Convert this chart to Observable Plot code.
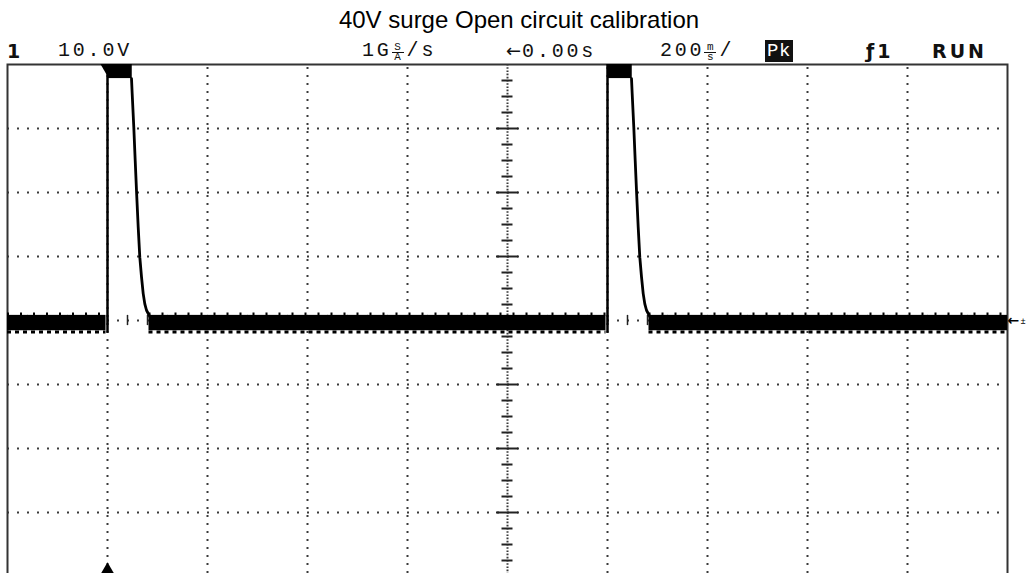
<!DOCTYPE html>
<html><head><meta charset="utf-8">
<script src="https://cdn.jsdelivr.net/npm/d3@7"></script>
<script src="https://cdn.jsdelivr.net/npm/@observablehq/plot@0.6"></script>
<style>
html,body{margin:0;padding:0;background:#fff;}
#wrap{position:relative;width:1026px;height:573px;overflow:hidden;background:#fff;}
#chart{position:absolute;left:0;top:0;}
#title{position:absolute;left:0;width:1038px;top:6px;text-align:center;font-family:"Liberation Sans",Arial,sans-serif;font-size:24px;color:#000;white-space:nowrap;}
.h{position:absolute;top:41px;font-family:"Liberation Mono",monospace;font-size:20px;letter-spacing:2.8px;line-height:20px;color:#111;white-space:nowrap;}
.b{font-family:"DejaVu Sans",sans-serif;font-weight:bold;font-size:19px;letter-spacing:3px;}
.arr{font-family:"DejaVu Sans",sans-serif;font-size:18px;letter-spacing:0;margin-right:1px;}
.stk{display:inline-block;vertical-align:top;margin-top:2px;font-size:11px;line-height:9px;letter-spacing:0;text-align:center;width:12px;margin-right:3px;}
.stk span{display:block;}
.stk .up{border-bottom:1.5px solid #111;}
.pk{background:#111;color:#fff;letter-spacing:0.5px;padding:0 2px;font-size:19px;}
</style></head>
<body><div id="wrap"><div id="chart"></div><div id="title"></div></div>
<script>
// ---- texts ----
const title = "40V surge Open circuit calibration";
const channelLabel = "1";
const voltsPerDiv = "10.0V";
const sampleRate = ["1G", "S", "A", "/s"];
const triggerDelay = ["←", "0.00s"];
const timePerDiv = ["200", "m", "s", "/"];
const acqMode = "Pk";
const triggerSource = "ƒ1";
const runState = "RUN";

// ---- scales (s, V) ----
const timeDomain = [-0.2, 1.8];
const voltDomain = [-40, 40];
const gridTimes = [0, 0.2, 0.4, 0.6, 1.0, 1.2, 1.4, 1.6];
const centerTime = 0.8;
const gridVolts = [-30, -20, -10, 0, 10, 20, 30];
const centerTicksV = d3.range(-15, 16).map(k => k * 2.5);
const centerTicksT = d3.range(-24, 25).map(k => centerTime + k * 0.04);

// ---- waveform ----
const triggerTime = 0;
const pulseStarts = [0, 1.0];
const pulseTopLow = 37.8, pulseTopHigh = 40, pulseTopEnd = 0.048;
const decayT = [0.048, 0.0494, 0.0526, 0.0554, 0.058, 0.0614, 0.0646, 0.068, 0.0714, 0.0746, 0.078, 0.0846];
const decayV = [37.8, 35.4, 30.2, 25.0, 20.3, 14.6, 9.9, 6.8, 4.2, 2.6, 1.6, 0.6];
const baselineSegments = [[-0.2, -0.003], [0.083, 0.997], [1.083, 1.8]];
const noiseLow = -1.6, noiseHigh = 0.8;
const groundLevel = 0;

// title & header
document.getElementById("title").textContent = title;
const wrap = document.getElementById("wrap");
const headerLeft = [7, 58, 362, 506, 660, 765, 866, 932];
const headerHtml = [
  `<span class="b">${channelLabel}</span>`,
  voltsPerDiv,
  `${sampleRate[0]}<span class="stk"><span class="up">${sampleRate[1]}</span><span>${sampleRate[2]}</span></span>${sampleRate[3]}`,
  `<span class="arr">${triggerDelay[0]}</span>${triggerDelay[1]}`,
  `${timePerDiv[0]}<span class="stk"><span class="up">${timePerDiv[1]}</span><span>${timePerDiv[2]}</span></span>${timePerDiv[3]}`,
  `<span class="pk">${acqMode}</span>`,
  `<span class="b">${triggerSource}</span>`,
  `<span class="b">${runState}</span>`
];
headerHtml.forEach((h, i) => {
  const d = document.createElement("div");
  d.className = "h";
  d.style.left = headerLeft[i] + "px";
  d.innerHTML = h;
  wrap.appendChild(d);
});

const decayData = pulseStarts.flatMap((s, p) => decayT.map((t, i) => ({pulse: p, t: s + t, v: decayV[i]})));

const chart = Plot.plot({
  width: 1026, height: 580,
  marginTop: 64, marginLeft: 7, marginRight: 19, marginBottom: 4,
  x: {domain: timeDomain, axis: null},
  y: {domain: voltDomain, axis: null},
  style: {background: "transparent", overflow: "visible"},
  marks: [
    Plot.ruleX(gridTimes, {stroke: "#3a3a3a", strokeWidth: 2, strokeDasharray: "2,6", strokeDashoffset: -3}),
    Plot.ruleY(gridVolts, {stroke: "#3a3a3a", strokeWidth: 2, strokeDasharray: "2,8"}),
    Plot.ruleX([centerTime], {stroke: "#3a3a3a", strokeWidth: 2, strokeDasharray: "1.6,1.6"}),
    Plot.ruleY(centerTicksV, {y: d => d, x1: d => centerTime - (d % 10 === 0 ? 0.022 : 0.011), x2: d => centerTime + (d % 10 === 0 ? 0.022 : 0.011), stroke: "#222", strokeWidth: 2}),
    Plot.ruleX(centerTicksT, {x: d => d, y1: -0.8, y2: 0.8, stroke: "#222", strokeWidth: 1.5}),
    Plot.frame({stroke: "#333", strokeWidth: 2}),
    // baseline noise band
    Plot.rect(baselineSegments, {x1: d => d[0], x2: d => d[1], y1: noiseLow, y2: noiseHigh, fill: "#000"}),
    Plot.ruleY(baselineSegments, {y: noiseLow - 0.2, x1: d => d[0], x2: d => d[1], stroke: "#000", strokeWidth: 3, strokeDasharray: "4,4"}),
    Plot.ruleY(baselineSegments, {y: noiseHigh + 0.2, x1: d => d[0], x2: d => d[1], stroke: "#000", strokeWidth: 3, strokeDasharray: "2,11"}),
    // pulse tops
    Plot.rect(pulseStarts, {x1: d => d, x2: d => d + pulseTopEnd + 0.0015, y1: pulseTopLow, y2: pulseTopHigh, fill: "#000"}),
    // rising edges
    Plot.ruleX(pulseStarts, {x: d => d, y1: noiseLow - 0.4, y2: pulseTopHigh, stroke: "#000", strokeWidth: 2.5}),
    // decays
    Plot.line(decayData, {x: "t", y: "v", z: "pulse", stroke: "#000", strokeWidth: 2.8}),
    // trigger markers
    Plot.dot([triggerTime], {x: d => d, frameAnchor: "bottom", dy: -5, symbol: "triangle", r: 6, fill: "#000", stroke: null}),
    Plot.dot([triggerTime], {x: d => d, frameAnchor: "top", dy: 3, dx: -1, symbol: "triangle", rotate: 180, r: 4.5, fill: "#000", stroke: null}),
    // ground marker
    Plot.text([groundLevel], {y: d => d, frameAnchor: "right", text: () => "←", textAnchor: "start", dx: 0, fontSize: 14, fontWeight: "bold", fill: "#000", fontFamily: "DejaVu Sans"}),
    Plot.text([groundLevel], {y: d => d, frameAnchor: "right", text: () => "±", textAnchor: "start", dx: 13, dy: 1, fontSize: 9, fill: "#000"})
  ]
});
document.getElementById("chart").appendChild(chart);
</script>
</body></html>
